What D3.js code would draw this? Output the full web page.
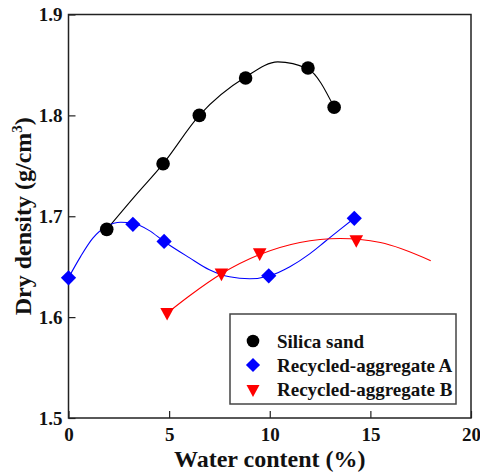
<!DOCTYPE html>
<html>
<head>
<meta charset="utf-8">
<script src="https://cdn.jsdelivr.net/npm/d3@7"></script>
<style>
  body { margin: 0; background: #fff; }
</style>
</head>
<body>
<div id="chart"></div>
<script>
// ---- Measured points ----
const silicaWater = [1.9, 4.7, 6.5, 8.8, 11.9, 13.2];
const silicaDensity = [1.687, 1.752, 1.800, 1.837, 1.847, 1.808];

const aggAWater = [0, 3.2, 4.75, 9.95, 14.2];
const aggADensity = [1.639, 1.692, 1.675, 1.641, 1.698];

const aggBWater = [4.9, 7.6, 9.5, 14.3];
const aggBDensity = [1.605, 1.644, 1.664, 1.677];

// ---- Fitted trend lines ----
const silicaFitWater = [1.9, 3.3, 4.7, 6.5, 8.8, 10.4, 11.9, 13.2];
const silicaFitDensity = [1.687, 1.720, 1.752, 1.800, 1.838, 1.853, 1.846, 1.808];

const aggAFitWater = [0, 0.6, 1.2, 1.9, 2.6, 3.2, 4, 4.75, 6, 7, 8, 9, 10, 11, 12, 12.75, 13.5, 14.2];
const aggAFitDensity = [1.639, 1.660, 1.678, 1.690, 1.694, 1.693, 1.686, 1.675, 1.659, 1.647, 1.640, 1.638, 1.641, 1.650, 1.663, 1.675, 1.687, 1.698];

const aggBFitWater = [4.9, 6, 7.6, 9.5, 11.5, 13.5, 15.5, 18];
const aggBFitDensity = [1.604, 1.621, 1.643, 1.662, 1.674, 1.678, 1.674, 1.656];

// ---- Axes ----
const xTicks = [0, 5, 10, 15, 20];
const yTicks = [1.5, 1.6, 1.7, 1.8, 1.9];

const seriesNames = ["Silica sand", "Recycled-aggregate A", "Recycled-aggregate B"];

const FONT = "'Liberation Serif', 'Times New Roman', Tinos, serif";
const W = 480, H = 474;
const plot = { left: 68.5, right: 471, top: 14.5, bottom: 418 };

const svg = d3.select("#chart").append("svg")
  .attr("width", W).attr("height", H);

const x = d3.scaleLinear().domain([0, 20]).range([plot.left, plot.right]);
const y = d3.scaleLinear().domain([1.5, 1.9]).range([plot.bottom, plot.top]);

const zip = (a, b) => a.map((v, i) => [v, b[i]]);

const series = [
  { name: seriesNames[0], color: "#000", shape: "circle",
    pts: zip(silicaWater, silicaDensity), fit: zip(silicaFitWater, silicaFitDensity) },
  { name: seriesNames[1], color: "#0000ff", shape: "diamond",
    pts: zip(aggAWater, aggADensity), fit: zip(aggAFitWater, aggAFitDensity) },
  { name: seriesNames[2], color: "#ff0000", shape: "triangle",
    pts: zip(aggBWater, aggBDensity), fit: zip(aggBFitWater, aggBFitDensity) },
];

// ---- Axes (inward ticks) ----
const xAxis = svg.append("g")
  .attr("transform", `translate(0,${plot.bottom})`)
  .call(d3.axisBottom(x).tickValues(xTicks).tickSizeInner(-7).tickSizeOuter(0).tickPadding(10));

const yAxis = svg.append("g")
  .attr("transform", `translate(${plot.left},0)`)
  .call(d3.axisLeft(y).tickValues(yTicks).tickFormat(d3.format(".1f"))
    .tickSizeInner(-7).tickSizeOuter(0).tickPadding(6));

[xAxis, yAxis].forEach(g => {
  g.attr("font-family", null).attr("font-size", null);
  g.select(".domain").remove();
  g.selectAll(".tick line").attr("stroke", "#222").attr("stroke-width", 1.2);
  g.selectAll(".tick text")
    .attr("fill", "#111")
    .style("font-size", "19px");
});

// ---- Frame ----
svg.append("rect")
  .attr("x", plot.left).attr("y", plot.top)
  .attr("width", plot.right - plot.left)
  .attr("height", plot.bottom - plot.top)
  .attr("fill", "none")
  .attr("stroke", "#222")
  .attr("stroke-width", 1.5);

// ---- Marker shapes ----
function marker(sel, shape, size) {
  if (shape === "circle") {
    sel.append("circle").attr("r", size);
  } else if (shape === "diamond") {
    const s = size * 1.12;
    sel.append("path").attr("d", `M0,${-s}L${s},0L0,${s}L${-s},0Z`);
  } else {
    const w = size, h = size * 1.85;
    sel.append("path").attr("d", `M${-w},${-h / 3}L${w},${-h / 3}L0,${h * 2 / 3}Z`);
  }
}

// ---- Fit lines ----
const line = d3.line()
  .x(d => x(d[0]))
  .y(d => y(d[1]))
  .curve(d3.curveMonotoneX);

series.forEach(s => {
  svg.append("path")
    .datum(s.fit)
    .attr("d", line)
    .attr("fill", "none")
    .attr("stroke", s.color)
    .attr("stroke-width", 1.1);
});

// ---- Points ----
series.forEach(s => {
  svg.append("g")
    .selectAll("g")
    .data(s.pts)
    .join("g")
    .attr("transform", d => `translate(${x(d[0])},${y(d[1])})`)
    .attr("fill", s.color)
    .each(function () { marker(d3.select(this), s.shape, 6.8); });
});

// ---- Legend ----
const legend = svg.append("g").attr("transform", "translate(230,314)");
legend.append("rect")
  .attr("width", 226).attr("height", 90)
  .attr("fill", "#fff")
  .attr("stroke", "#444")
  .attr("stroke-width", 1.5);

series.forEach((s, i) => {
  const row = legend.append("g").attr("transform", `translate(23,${27 + i * 24})`);
  const m = row.append("g").attr("fill", s.color);
  marker(m, s.shape, s.shape === "triangle" ? 6.5 : 6.3);
  row.append("text")
    .attr("x", 24).attr("y", 6.5)
    .style("font-size", "19px")
    .attr("fill", "#111")
    .text(s.name);
});

// ---- Axis titles ----
svg.append("text")
  .attr("x", (plot.left + plot.right) / 2).attr("y", 467)
  .attr("text-anchor", "middle")
  .style("font-size", "24px")
  .attr("fill", "#111")
  .text("Water content (%)");

const yTitle = svg.append("text")
  .attr("transform", `translate(31,${(plot.top + plot.bottom) / 2}) rotate(-90)`)
  .attr("text-anchor", "middle")
  .style("font-size", "24px")
  .attr("fill", "#111");
yTitle.append("tspan").text("Dry density (g/cm");
yTitle.append("tspan").attr("dy", -9).style("font-size", "15px").text("3");
yTitle.append("tspan").attr("dy", 9).text(")");

// ---- Serif bold for every label ----
svg.selectAll("text")
  .style("font-family", FONT)
  .style("font-weight", "bold");
</script>
</body>
</html>
